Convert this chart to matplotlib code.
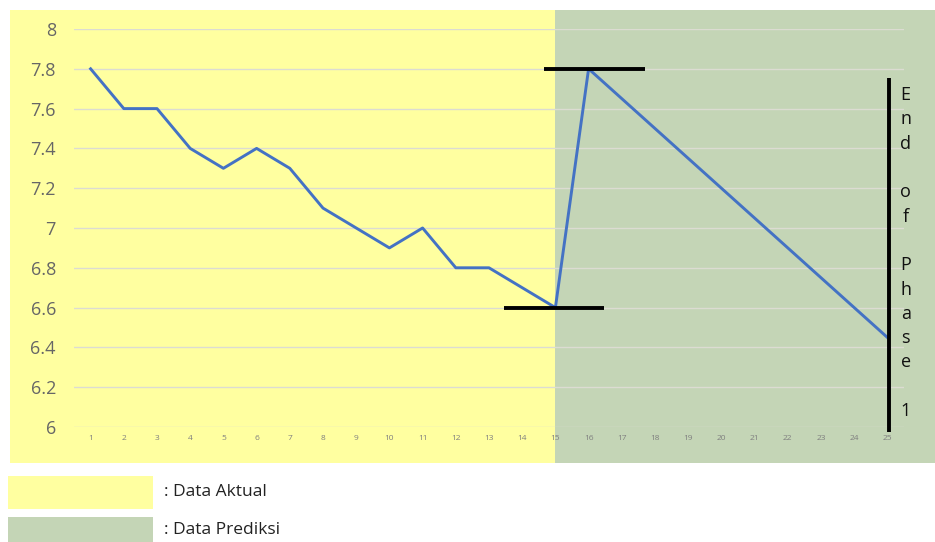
import numpy as np
import matplotlib.pyplot as plt
from matplotlib.patches import Rectangle
from matplotlib.transforms import blended_transform_factory

# data
periods = list(range(1, 26))
values = [7.8, 7.6, 7.6, 7.4, 7.3, 7.4, 7.3, 7.1, 7.0, 6.9, 7.0, 6.8, 6.8, 6.7, 6.6,
          7.8, 7.65, 7.5, 7.35, 7.2, 7.05, 6.9, 6.75, 6.6, 6.45]
y_ticks = [6, 6.2, 6.4, 6.6, 6.8, 7, 7.2, 7.4, 7.6, 7.8, 8]
y_tick_labels = ['6', '6.2', '6.4', '6.6', '6.8', '7', '7.2', '7.4', '7.6', '7.8', '8']
split_at = 15          # last actual period
peak_at = 16
phase_end = 25
legend_labels = [': Data Aktual', ': Data Prediksi']

YELLOW = '#FFFFA0'
GREEN = '#C4D5B6'
W, H = 935, 542
FONT = 'Open Sans'

fig = plt.figure(figsize=(W / 100, H / 100), dpi=100)
fig.patch.set_facecolor('white')
ax = fig.add_axes([74 / W, 1 - 427 / H, (904 - 74) / W, (427 - 29) / H])
ax.set_facecolor('none')

ax.set_xlim(0.5, 25.5)
ax.set_ylim(6, 8)

# background panels: x boundary from data, outer edges in figure fraction
bt = blended_transform_factory(ax.transData, fig.transFigure)
fx0 = ax.transData.inverted().transform((10, 0))[0]
fx1 = ax.transData.inverted().transform((W, 0))[0]
y0, y1 = 1 - 463 / H, 1 - 10 / H
fig.add_artist(Rectangle((fx0, y0), split_at - fx0, y1 - y0, transform=bt,
                         facecolor=YELLOW, edgecolor='none', zorder=-10))
fig.add_artist(Rectangle((split_at, y0), fx1 - split_at, y1 - y0, transform=bt,
                         facecolor=GREEN, edgecolor='none', zorder=-10))

ax.set_yticks(y_ticks)
ax.set_yticklabels(y_tick_labels)
ax.set_xticks(periods)
ax.set_xticklabels([str(p) for p in periods])
ax.grid(axis='y', color='#DCDCD2', linewidth=1)
ax.set_axisbelow(True)
for s in ax.spines.values():
    s.set_visible(False)
ax.tick_params(axis='y', length=0, pad=13, labelsize=13, labelcolor='#666666')
ax.tick_params(axis='x', length=0, pad=6, labelsize=6, labelcolor='#7f7f7f')
for lab in ax.get_yticklabels() + ax.get_xticklabels():
    lab.set_family(FONT)

ax.plot(periods, values, color='#4472C4', linewidth=2.1, zorder=3)

# markers for the trough and peak
trough_val = values[split_at - 1]
peak_val = values[peak_at - 1]
ax.plot([split_at - 1.55, split_at + 1.45], [trough_val, trough_val], color='black',
        linewidth=2.8, zorder=4, solid_capstyle='butt')
ax.plot([peak_at - 1.35, peak_at + 1.7], [peak_val, peak_val], color='black',
        linewidth=2.8, zorder=4, solid_capstyle='butt')

# end of phase line
ax.plot([phase_end + 0.05, phase_end + 0.05], [5.975, 7.755], color='black',
        linewidth=2.8, zorder=4, clip_on=False, solid_capstyle='butt')
ax.text(phase_end + 0.55, 6.874, 'E\nn\nd\n\no\nf\n\nP\nh\na\ns\ne\n\n1',
        ha='center', va='center', fontsize=13, family=FONT, linespacing=1.45,
        color='#111111', clip_on=False)

# legend boxes under the chart
fig.add_artist(Rectangle((8 / W, 1 - 509 / H), 145 / W, 33 / H, transform=fig.transFigure,
                         facecolor=YELLOW, edgecolor='none'))
fig.add_artist(Rectangle((8 / W, 0), 145 / W, 25 / H, transform=fig.transFigure,
                         facecolor=GREEN, edgecolor='none'))
fig.text(164 / W, 1 - 492 / H, legend_labels[0], fontsize=12.5, family=FONT,
         va='center', ha='left', color='#222222')
fig.text(164 / W, 1 - 530 / H, legend_labels[1], fontsize=12.5, family=FONT,
         va='center', ha='left', color='#222222')

fig.savefig('out.png', dpi=100)
